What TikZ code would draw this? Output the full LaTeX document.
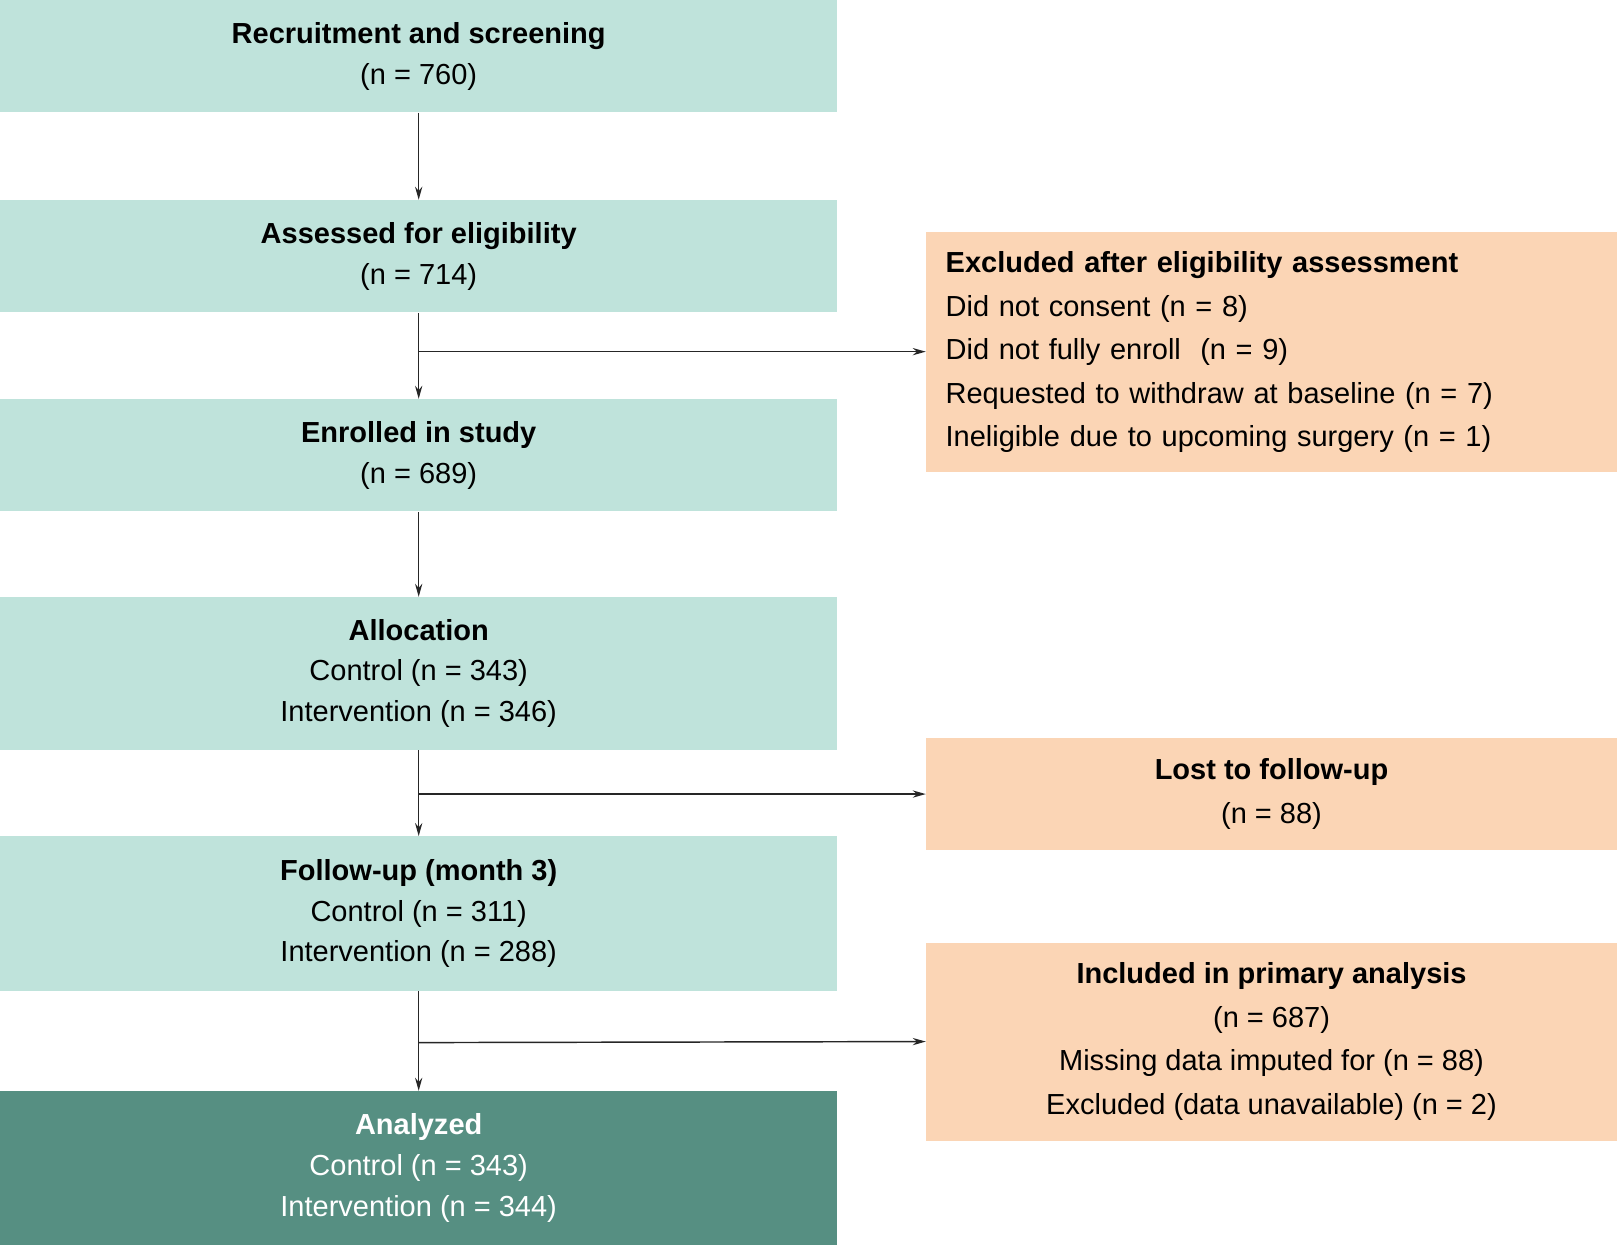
\documentclass[tikz,border=0pt]{standalone}
\usepackage{fontspec}
\setmainfont{Liberation Sans}
\usetikzlibrary{arrows.meta}
\definecolor{lightteal}{HTML}{BFE3DB}
\definecolor{darkteal}{HTML}{568F82}
\definecolor{peach}{HTML}{FBD5B5}
\tikzset{x=0.025cm, y=-0.025cm,
  flow box/.style={fill=lightteal, draw=none, minimum width=812*0.025cm,
        align=center, font=\fontsize{20}{28}\selectfont, inner sep=0pt},
  side box/.style={fill=peach, draw=none, minimum width=670*0.025cm,
        font=\fontsize{20}{30}\selectfont, inner sep=0pt},
  flow arrow/.style={-{Stealth[length=9pt,width=5pt]}, line width=1pt, black!85}
}
\begin{document}
\begin{tikzpicture}
\useasboundingbox (0,0) rectangle (1568,1207);
% main column
\node[flow box, minimum height=109*0.025cm] (recruit) at (406,54.5)
  {\textbf{Recruitment and screening}\\(n = 760)};
\node[flow box, minimum height=109*0.025cm] (assess) at (406,248.5)
  {\textbf{Assessed for eligibility}\\(n = 714)};
\node[flow box, minimum height=109*0.025cm] (enrol) at (406,441.5)
  {\textbf{Enrolled in study}\\(n = 689)};
\node[flow box, minimum height=148*0.025cm] (alloc) at (406,653)
  {\textbf{Allocation}\\Control (n = 343)\\Intervention (n = 346)};
\node[flow box, minimum height=150*0.025cm] (follow) at (406,886)
  {\textbf{Follow-up (month 3)}\\Control (n = 311)\\Intervention (n = 288)};
\node[flow box, fill=darkteal, text=white, minimum height=149*0.025cm] (analyzed) at (406,1132.5)
  {\textbf{Analyzed}\\Control (n = 343)\\Intervention (n = 344)};
% side boxes
\node[side box, minimum height=233*0.025cm, align=left, text width=632*0.025cm] (excl) at (1233,341.5)
  {\textbf{Excluded after eligibility assessment}\\Did not consent (n = 8)\\Did not fully enroll\ \ (n = 9)\\Requested to withdraw at baseline (n = 7)\\Ineligible due to upcoming surgery (n = 1)};
\node[side box, minimum height=108*0.025cm, align=center] (lost) at (1233,770)
  {\textbf{Lost to follow-up}\\(n = 88)};
\node[side box, minimum height=192*0.025cm, align=center] (incl) at (1233,1010)
  {\textbf{Included in primary analysis}\\(n = 687)\\Missing data imputed for (n = 88)\\Excluded (data unavailable) (n = 2)};
% connectors
\coordinate (j1) at (406,341);
\coordinate (j2) at (406,770);
\coordinate (j3) at (406,1011);
\draw[flow arrow] (recruit) -- (assess);
\draw[flow arrow] (assess) -- (enrol);
\draw[flow arrow] (enrol) -- (alloc);
\draw[flow arrow] (alloc) -- (follow);
\draw[flow arrow] (follow) -- (analyzed);
\draw[flow arrow] (j1) -- (excl.west |- j1);
\draw[flow arrow] (j2) -- (lost.west |- j2);
\draw[flow arrow] (j3) -- (incl.west);
\end{tikzpicture}
\end{document}
